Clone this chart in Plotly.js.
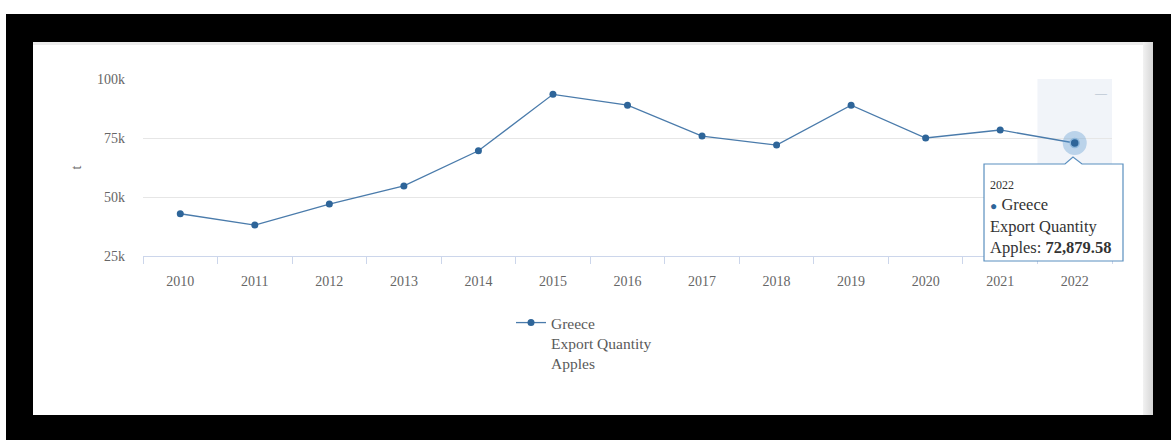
<!DOCTYPE html>
<html>
<head>
<meta charset="utf-8">
<script src="https://cdn.plot.ly/plotly-3.0.1.min.js"></script>
<style>
  html, body { margin: 0; padding: 0; background: #ffffff; width: 1171px; height: 440px; overflow: hidden; }
  #frame { position: absolute; left: 6px; top: 14px; width: 1165px; height: 426px; background: #000; }
  #panel { position: absolute; left: 33px; top: 42px; width: 1120px; height: 373px; background: #fff; }
  #topline { position: absolute; left: 33px; top: 42px; width: 1110px; height: 3px; background: #ececec; }
  #scroll { position: absolute; left: 1143px; top: 42px; width: 10px; height: 373px; background: linear-gradient(to right, #f2f2f2, #d6d6d6); }
  #chart { position: absolute; left: 33px; top: 45px; width: 1110px; height: 370px; }
</style>
</head>
<body>
<div id="frame"></div>
<div id="panel"></div>
<div id="topline"></div>
<div id="scroll"></div>
<div id="chart"></div>
<script>
// ---- data ----
const years = ['2010','2011','2012','2013','2014','2015','2016','2017','2018','2019','2020','2021','2022'];
const exportQuantity = [42900, 38100, 47000, 54700, 69600, 93500, 88900, 75800, 72000, 88900, 75000, 78400, 72879.58];
const seriesName = 'Greece<br>Export Quantity<br>Apples';
const yTickVals = [25000, 50000, 75000, 100000];
const yTickText = ['25k', '50k', '75k', '100k'];
const yUnit = 't';

// ---- geometry (chart div pixels) ----
const W = 1110, H = 370;
const ML = 110, MT = 34, PW = 969, PH = 177;
const px = x => (x - ML) / PW;
const py = y => (MT + PH - y) / PH;

const lineColor = '#4a7bab';
const markerColor = '#2e6599';
const serif = '"Liberation Serif", "Times New Roman", serif';

const hi = years.length - 1;
const hiVal = exportQuantity[hi];
const fmt = v => v.toLocaleString('en-US', {minimumFractionDigits: 2, maximumFractionDigits: 2});

const traces = [
  {
    x: years, y: exportQuantity, type: 'scatter', mode: 'lines+markers',
    name: seriesName,
    line: {color: lineColor, width: 1.3},
    marker: {color: markerColor, size: 7},
    hoverinfo: 'skip'
  },
  {
    x: [years[hi]], y: [hiVal], type: 'scatter', mode: 'markers',
    showlegend: false, hoverinfo: 'skip',
    marker: {color: 'rgba(86,150,205,0.35)', size: 24}
  },
  {
    x: [years[hi]], y: [hiVal], type: 'scatter', mode: 'markers',
    showlegend: false, hoverinfo: 'skip',
    marker: {color: markerColor, size: 9, line: {color: '#8fb8dc', width: 1.5}}
  }
];

// tooltip callout (chart div pixel coords -> paper)
const L = 951, R = 1090, T = 119, B = 216, tipX = 1040, tipY = 112;
function pathStr() {
  const pts = [[L,T],[tipX-8,T],[tipX,tipY],[tipX+9,T],[R,T],[R,B],[L,B]];
  return 'M ' + pts.map(p => px(p[0]).toFixed(5) + ',' + py(p[1]).toFixed(5)).join(' L ') + ' Z';
}

const layout = {
  width: W, height: H,
  margin: {l: ML, r: W - ML - PW, t: MT, b: H - MT - PH},
  paper_bgcolor: 'rgba(0,0,0,0)', plot_bgcolor: '#ffffff',
  font: {family: serif, color: '#666666', size: 14},
  showlegend: true,
  legend: {
    x: px(478), xanchor: 'left', y: py(261), yanchor: 'top', valign: 'top',
    font: {family: serif, size: 15.5, color: '#5a5a5a'},
    bgcolor: 'rgba(0,0,0,0)', itemwidth: 30, tracegroupgap: 0
  },
  xaxis: {
    type: 'category', range: [-0.5, years.length - 0.5],
    showgrid: false, zeroline: false,
    showline: true, linecolor: '#ccd6eb', linewidth: 1,
    ticks: 'outside', tickson: 'boundaries', ticklen: 7, tickcolor: '#ccd6eb', tickwidth: 1,
    tickfont: {family: serif, size: 14, color: '#666666'},
    ticklabelstandoff: 12, fixedrange: true
  },
  yaxis: {
    range: [25000, 100000],
    tickvals: yTickVals, ticktext: yTickText,
    showgrid: true, gridcolor: '#e6e6e6', gridwidth: 1,
    zeroline: false, showline: false, ticks: '',
    tickfont: {family: serif, size: 14, color: '#666666'},
    ticklabelstandoff: 17,
    title: {text: yUnit, font: {family: serif, size: 14, color: '#666666'}, standoff: 12},
    fixedrange: true
  },
  shapes: [
    {type: 'rect', xref: 'x', yref: 'paper', x0: hi - 0.5, x1: hi + 0.5, y0: 0, y1: 1,
     fillcolor: 'rgba(204,214,235,0.28)', line: {width: 0}, layer: 'below'},
    {type: 'path', xref: 'paper', yref: 'paper', path: pathStr(),
     fillcolor: 'rgba(255,255,255,0.97)', line: {color: '#5a8fbf', width: 1.2}, layer: 'above'}
  ],
  annotations: [
    {xref: 'paper', yref: 'paper', x: px(955), y: py(131), xanchor: 'left', yanchor: 'top',
     align: 'left', showarrow: false,
     font: {family: serif, size: 16.5, color: '#333333'},
     text: '<span style="font-size:12px">' + years[hi] + '</span><br><span style="color:' + markerColor + ';font-size:12px">●</span> Greece<br>Export Quantity<br>Apples: <b>' + fmt(hiVal) + '</b>'},
    {xref: 'paper', yref: 'paper', x: px(1068), y: py(48), xanchor: 'center', yanchor: 'middle',
     showarrow: false, text: '—', font: {family: serif, size: 12, color: '#aab6c6'}}
  ]
};

Plotly.newPlot('chart', traces, layout, {displayModeBar: false, staticPlot: true});
</script>
</body>
</html>
